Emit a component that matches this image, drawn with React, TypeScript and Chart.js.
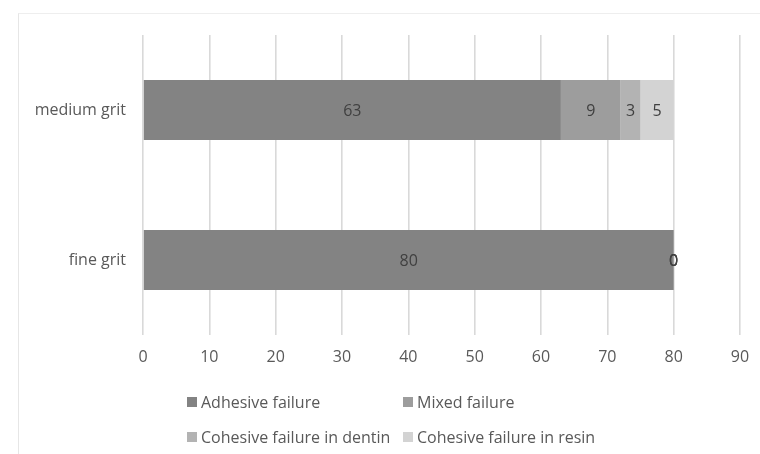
import React, { useEffect, useRef } from "react";
import { Chart, registerables } from "chart.js";

Chart.register(...registerables);

const categories = ["medium grit", "fine grit"];
const seriesNames = [
  "Adhesive failure",
  "Mixed failure",
  "Cohesive failure in dentin",
  "Cohesive failure in resin",
];
const adhesive = [63, 80];
const mixed = [9, 0];
const cohesiveDentin = [3, 0];
const cohesiveResin = [5, 0];
const seriesColors = ["#838383", "#9d9d9d", "#b3b3b3", "#d3d3d3"];
const xTicks = [0, 10, 20, 30, 40, 50, 60, 70, 80, 90];

const FONT = "Open Sans, 'Noto Sans', sans-serif";
const TEXT = "#595959";

// Writes each segment's value in the middle of its bar piece.
const segmentLabels = {
  id: "segmentLabels",
  afterDatasetsDraw(chart: any) {
    const ctx = chart.ctx;
    ctx.save();
    ctx.font = `16px ${FONT}`;
    ctx.fillStyle = "#404040";
    ctx.textAlign = "center";
    ctx.textBaseline = "middle";
    chart.data.datasets.forEach((ds: any, i: number) => {
      const meta = chart.getDatasetMeta(i);
      meta.data.forEach((bar: any, j: number) => {
        const c = bar.getCenterPoint();
        ctx.fillText(String(ds.data[j]), c.x, c.y + 1);
      });
    });
    ctx.restore();
  },
};

export default function App() {
  const canvasRef = useRef<HTMLCanvasElement | null>(null);

  useEffect(() => {
    const values = [adhesive, mixed, cohesiveDentin, cohesiveResin];
    const chart = new Chart(canvasRef.current as HTMLCanvasElement, {
      type: "bar",
      data: {
        labels: categories,
        datasets: seriesNames.map((name, i) => ({
          label: name,
          data: values[i],
          backgroundColor: seriesColors[i],
          borderWidth: 0,
          categoryPercentage: 0.4,
          barPercentage: 1,
        })),
      },
      options: {
        indexAxis: "y",
        responsive: false,
        animation: false,
        layout: { padding: { top: 35, right: 20, bottom: 80, left: 0 } },
        plugins: {
          legend: { display: false },
          tooltip: { enabled: false },
        },
        scales: {
          x: {
            stacked: true,
            min: 0,
            max: 90,
            afterBuildTicks: (scale: any) => {
              scale.ticks = xTicks.map((v) => ({ value: v }));
            },
            afterFit: (scale: any) => {
              scale.height = 39;
              scale.paddingLeft = 0;
              scale.paddingRight = 0;
            },
            grid: { color: "#d9d9d9", lineWidth: 1.6, drawTicks: false },
            border: { display: false },
            ticks: {
              color: TEXT,
              font: { family: FONT, size: 16 },
              padding: 13,
            },
          },
          y: {
            stacked: true,
            afterFit: (scale: any) => {
              scale.width = 143;
            },
            grid: { display: false },
            border: { display: false },
            ticks: {
              color: TEXT,
              font: { family: FONT, size: 16 },
              padding: 9,
            },
          },
        },
      },
      plugins: [segmentLabels],
    });
    return () => chart.destroy();
  }, []);

  const legendPos = [
    { left: 187, top: 393 },
    { left: 403, top: 393 },
    { left: 187, top: 428 },
    { left: 403, top: 428 },
  ];

  return (
    <div
      style={{
        position: "fixed",
        left: 0,
        top: 0,
        width: 760,
        height: 454,
        background: "#fff",
        overflow: "hidden",
      }}
    >
      <div
        style={{
          position: "absolute",
          left: 18,
          top: 13,
          right: -2,
          bottom: -2,
          borderLeft: "1px solid #e6e6e6",
          borderTop: "1px solid #eeeeee",
        }}
      />
      <canvas
        ref={canvasRef}
        width={760}
        height={454}
        style={{ position: "absolute", left: 0, top: 0 }}
      />
      {seriesNames.map((name, i) => (
        <div
          key={name}
          style={{
            position: "absolute",
            left: legendPos[i].left,
            top: legendPos[i].top,
            height: 18,
            display: "flex",
            alignItems: "center",
            fontFamily: FONT,
            fontSize: 16,
            color: TEXT,
            whiteSpace: "nowrap",
          }}
        >
          <span
            style={{
              display: "inline-block",
              width: 10,
              height: 10,
              background: seriesColors[i],
              marginRight: 4,
            }}
          />
          {name}
        </div>
      ))}
    </div>
  );
}
